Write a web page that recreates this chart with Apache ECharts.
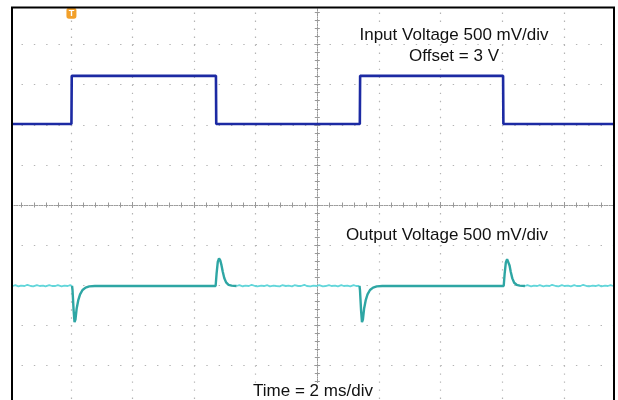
<!DOCTYPE html>
<html>
<head>
<meta charset="utf-8">
<script src="https://cdn.jsdelivr.net/npm/echarts@6/dist/echarts.min.js"></script>
<style>
html,body{margin:0;padding:0;background:#fff;}
#c{width:618px;height:400px;}
</style>
</head>
<body>
<div id="c"></div>
<script>
// Values in scope divisions (y) and milliseconds (x), 2 ms/div, 500 mV/div
const triggerTime = -7.98;
const inputTime = [-9.88, -7.98, -7.97, -3.29, -3.28, 1.38, 1.39, 6.03, 6.04, 9.6];
const inputLevel = [2.02, 2.02, 3.22, 3.22, 2.02, 2.02, 3.22, 3.22, 2.02, 2.02];

const outLowT1 = [-9.88,-9.80,-9.70,-9.62,-9.50,-9.41,-9.30,-9.22,-9.10,-9.01,-8.90,-8.82,-8.70,-8.61,-8.50,-8.42,-8.30,-8.21,-8.10,-8.02,-7.96];
const outLowV1 = [-2.02,-2.00,-2.03,-2.01,-2.02,-1.99,-2.02,-2.03,-2.00,-2.02,-2.01,-2.03,-2.00,-2.02,-2.02,-2.00,-2.03,-2.01,-2.02,-2.00,-2.02];

const outHighT1 = [-7.96,-7.945,-7.91,-7.88,-7.85,-7.81,-7.76,-7.70,-7.62,-7.52,-7.40,-7.22,-5.50,-3.30,-3.27,-3.23,-3.19,-3.15,-3.11,-3.07,-3.02,-2.96,-2.88,-2.78,-2.62];
const outHighV1 = [-2.02,-2.12,-2.62,-2.92,-2.86,-2.58,-2.38,-2.23,-2.12,-2.06,-2.03,-2.02,-2.02,-2.02,-1.72,-1.42,-1.33,-1.38,-1.50,-1.66,-1.82,-1.93,-1.99,-2.01,-2.02];

const outLowT2 = [-2.62,-2.53,-2.42,-2.34,-2.22,-2.13,-2.02,-1.94,-1.82,-1.73,-1.62,-1.54,-1.42,-1.33,-1.22,-1.14,-1.02,-0.93,-0.82,-0.74,-0.62,-0.53,-0.42,-0.34,-0.22,-0.13,-0.02,0.06,0.18,0.27,0.38,0.46,0.58,0.67,0.78,0.86,0.98,1.07,1.18,1.26,1.37];
const outLowV2 = [-2.02,-2.00,-2.03,-2.01,-2.02,-1.99,-2.02,-2.03,-2.01,-2.02,-2.00,-2.03,-2.01,-2.02,-2.03,-2.00,-2.02,-2.01,-2.03,-2.00,-2.02,-2.02,-1.99,-2.02,-2.03,-2.01,-2.02,-2.00,-2.03,-2.02,-2.00,-2.02,-2.01,-2.03,-2.00,-2.02,-2.01,-2.03,-2.00,-2.02,-2.02];

const outHighT2 = [1.37,1.385,1.42,1.45,1.48,1.52,1.57,1.63,1.71,1.81,1.93,2.11,4.00,6.05,6.08,6.12,6.16,6.20,6.24,6.28,6.33,6.39,6.47,6.57,6.74];
const outHighV2 = [-2.02,-2.12,-2.62,-2.92,-2.86,-2.58,-2.38,-2.23,-2.12,-2.06,-2.03,-2.02,-2.02,-2.02,-1.72,-1.43,-1.35,-1.39,-1.51,-1.67,-1.83,-1.94,-1.99,-2.01,-2.02];

const outLowT3 = [6.74,6.82,6.94,7.03,7.14,7.22,7.34,7.43,7.54,7.62,7.74,7.83,7.94,8.02,8.14,8.23,8.34,8.42,8.54,8.63,8.74,8.82,8.94,9.03,9.14,9.22,9.34,9.43,9.52,9.60];
const outLowV3 = [-2.02,-2.00,-2.03,-2.01,-2.02,-2.00,-2.03,-2.01,-2.02,-1.99,-2.02,-2.03,-2.00,-2.02,-2.01,-2.03,-2.00,-2.02,-2.02,-1.99,-2.02,-2.03,-2.01,-2.02,-2.00,-2.03,-2.01,-2.02,-2.00,-2.02];

const labels = {
  input: 'Input Voltage 500 mV/div',
  offset: 'Offset = 3 V',
  output: 'Output Voltage 500 mV/div',
  time: 'Time = 2 ms/div'
};

function pairs(t, v) { return t.map((x, i) => [x, v[i]]); }
function joinSeg(...segs) {
  const out = [];
  segs.forEach((s, i) => { if (i > 0) out.push([null, null]); s.forEach(p => out.push(p)); });
  return out;
}

const FONT = "'Liberation Sans', Arial, Helvetica, sans-serif";
const gridCol = '#b4b4b4';
const axisCol = '#999999';

function xAx(pos, idx, split) {
  return {
    type: 'value', min: -10, max: 10, interval: 2, position: pos,
    axisLine: { show: true, onZero: true, onZeroAxisIndex: idx, lineStyle: { color: axisCol, type: [1, 1.5], width: 1 } },
    axisTick: { show: true, inside: false, length: 3, lineStyle: { color: axisCol } },
    minorTick: { show: true, splitNumber: 5, length: 2.5, lineStyle: { color: axisCol } },
    axisLabel: { show: false },
    splitLine: { show: split, lineStyle: { color: gridCol, width: 1.2, type: [1.4, 6.62] } },
    minorSplitLine: { show: false }
  };
}
function yAx(pos, idx, split) {
  return {
    type: 'value', min: -5, max: 5, interval: 1, position: pos,
    axisLine: { show: true, onZero: true, onZeroAxisIndex: idx, lineStyle: { color: axisCol, type: [1, 1.5], width: 1 } },
    axisTick: { show: true, inside: false, length: 3, lineStyle: { color: axisCol } },
    minorTick: { show: true, splitNumber: 5, length: 2.5, lineStyle: { color: axisCol } },
    axisLabel: { show: false },
    splitLine: { show: split, lineStyle: { color: gridCol, width: 1.2, type: [1.4, 10.92] } },
    minorSplitLine: { show: false }
  };
}

const textStyle = (t) => ({ text: t, font: '17px ' + FONT, fill: '#111', align: 'center', verticalAlign: 'middle', backgroundColor: '#fff', padding: [0, 2] });

const chart = echarts.init(document.getElementById('c'), null, { renderer: 'canvas' });
chart.setOption({
  animation: false,
  backgroundColor: '#fff',
  grid: { left: 9.2, right: -7.4, top: 4.5, bottom: -5.5, containLabel: false, outerBoundsMode: 'none' },
  xAxis: [xAx('bottom', 0, true), xAx('top', 1, false)],
  yAxis: [yAx('left', 0, true), yAx('right', 1, false)],
  series: [
    {
      name: 'Output (settled)', type: 'line', xAxisIndex: 0, yAxisIndex: 0,
      data: joinSeg(pairs(outLowT1, outLowV1), pairs(outLowT2, outLowV2), pairs(outLowT3, outLowV3)),
      showSymbol: false, connectNulls: false,
      lineStyle: { color: '#62d6da', width: 1.8 }, z: 3
    },
    {
      name: 'Output (transient)', type: 'line', xAxisIndex: 0, yAxisIndex: 0,
      data: joinSeg(pairs(outHighT1, outHighV1), pairs(outHighT2, outHighV2)),
      showSymbol: false, connectNulls: false,
      lineStyle: { color: '#2ea6a4', width: 2.4 }, z: 4
    },
    {
      name: 'Input', type: 'line', xAxisIndex: 0, yAxisIndex: 0,
      data: pairs(inputTime, inputLevel),
      showSymbol: false,
      lineStyle: { color: '#1c2aa3', width: 2.6 }, z: 5,
      markPoint: {
        symbol: 'roundRect', symbolSize: [10, 11],
        itemStyle: { color: '#f2a02a' },
        label: { show: true, formatter: 'T', color: '#fff', fontSize: 9, fontWeight: 'bold', fontFamily: FONT },
        data: [{ coord: [triggerTime, 4.78] }]
      }
    }
  ],
  graphic: [
    { type: 'rect', z: 50, shape: { x: 0, y: 0, width: 11, height: 400 }, style: { fill: '#fff' } },
    { type: 'rect', z: 50, shape: { x: 0, y: 0, width: 618, height: 7 }, style: { fill: '#fff' } },
    { type: 'rect', z: 50, shape: { x: 615, y: 0, width: 3, height: 400 }, style: { fill: '#fff' } },
    { type: 'rect', z: 51, shape: { x: 12, y: 7.5, width: 602, height: 420 }, style: { fill: null, stroke: '#000', lineWidth: 2 } },
    { type: 'text', z: 60, x: 454, y: 35, style: textStyle(labels.input) },
    { type: 'text', z: 60, x: 454, y: 56.5, style: textStyle(labels.offset) },
    { type: 'text', z: 60, x: 447, y: 235.5, style: textStyle(labels.output) },
    { type: 'text', z: 60, x: 313, y: 391.5, style: textStyle(labels.time) }
  ]
});
</script>
</body>
</html>
